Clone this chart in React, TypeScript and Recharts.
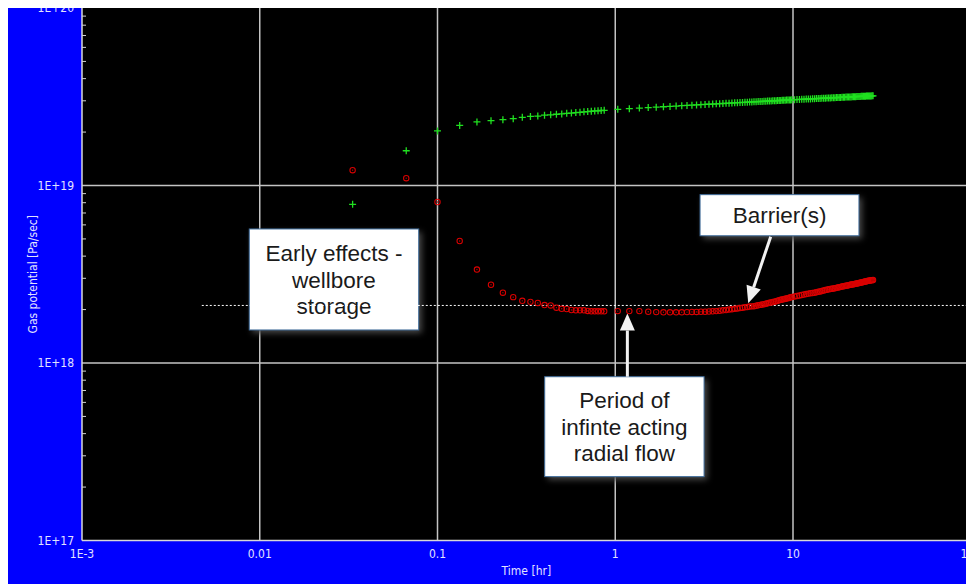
import React from "react";
import {
  ScatterChart,
  Scatter,
  XAxis,
  YAxis,
  CartesianGrid,
  ReferenceLine,
  ReferenceArea,
} from "recharts";

// values of both series are given in units of 1E+18 Pa/sec
const UNIT = 1e18;

const TIME_HR = [
  0.0333, 0.0667, 0.1, 0.1333, 0.1667, 0.2, 0.2333, 0.2667, 0.3, 0.3333, 0.3667, 0.4, 0.4333,
  0.4667, 0.5, 0.5333, 0.5667, 0.6, 0.6333, 0.6667, 0.7, 0.7333, 0.7667, 0.8, 0.8333, 0.8667,
  1.033, 1.2, 1.367, 1.533, 1.7, 1.867, 2.033, 2.2, 2.367, 2.533, 2.7, 2.867,
  3.033, 3.2, 3.367, 3.533, 3.7, 3.867, 4.033, 4.2, 4.367, 4.533, 4.7, 4.867,
  5.033, 5.2, 5.367, 5.533, 5.7, 5.867, 6.033, 6.2, 6.367, 6.533, 6.7, 6.867,
  7.033, 7.2, 7.367, 7.533, 7.7, 7.867, 8.033, 8.2, 8.367, 8.533, 8.7, 8.867,
  9.033, 9.2, 9.367, 9.533, 9.7, 9.867,
  10.2, 10.53, 10.87, 11.2, 11.53, 11.87, 12.2, 12.53, 12.87, 13.2, 13.53, 13.87,
  14.2, 14.53, 14.87, 15.2, 15.53, 15.87, 16.2, 16.53, 16.87, 17.2, 17.53, 17.87,
  18.2, 18.53, 18.87, 19.2, 19.53, 19.87, 20.2, 20.53, 20.87, 21.2, 21.53, 21.87,
  22.2, 22.53, 22.87, 23.2, 23.53, 23.87, 24.2, 24.53, 24.87, 25.2, 25.53, 25.87,
  26.2, 26.53, 26.87, 27.2, 27.53, 27.87, 28.2,
];

// green "+" series: gas potential
const GAS_POTENTIAL = [
  7.83, 15.7, 20.3, 21.8, 22.8, 23.2, 23.5, 23.8, 24.2, 24.5, 24.6, 24.9, 25.0,
  25.2, 25.3, 25.5, 25.6, 25.75, 25.85, 26.0, 26.1, 26.2, 26.3, 26.35, 26.45, 26.5,
  26.85, 27.08, 27.29, 27.47, 27.63, 27.78, 27.91, 28.03, 28.15, 28.25, 28.35, 28.45,
  28.53, 28.62, 28.7, 28.77, 28.85, 28.92, 28.98, 29.04, 29.11, 29.16, 29.22, 29.28,
  29.33, 29.38, 29.43, 29.47, 29.52, 29.57, 29.61, 29.65, 29.7, 29.73, 29.77, 29.81,
  29.85, 29.89, 29.92, 29.96, 29.99, 30.03, 30.06, 30.09, 30.12, 30.15, 30.18, 30.21,
  30.24, 30.27, 30.3, 30.32, 30.35, 30.38,
  30.43, 30.48, 30.53, 30.58, 30.62, 30.67, 30.71, 30.75, 30.8, 30.84, 30.87, 30.91,
  30.95, 30.98, 31.02, 31.06, 31.09, 31.12, 31.16, 31.19, 31.22, 31.25, 31.28, 31.31,
  31.34, 31.36, 31.39, 31.42, 31.45, 31.47, 31.5, 31.52, 31.55, 31.57, 31.6, 31.62,
  31.65, 31.67, 31.69, 31.72, 31.74, 31.76, 31.78, 31.8, 31.83, 31.84, 31.87, 31.89,
  31.91, 31.93, 31.94, 31.97, 31.98, 32.0, 32.02,
];

// red "o" series: derivative
const DERIVATIVE = [
  12.2, 11.0, 8.07, 4.87, 3.36, 2.76, 2.49, 2.35, 2.24, 2.21, 2.18, 2.12, 2.11,
  2.05, 2.02, 2.015, 1.99, 1.98, 1.98, 1.98, 1.965, 1.955, 1.955, 1.955, 1.955, 1.955,
  1.96, 1.96, 1.96, 1.945, 1.935, 1.93, 1.93, 1.93, 1.93, 1.935, 1.94, 1.94,
  1.945, 1.945, 1.95, 1.955, 1.96, 1.97, 1.98, 1.99, 2.0, 2.01, 2.02, 2.03,
  2.04, 2.05, 2.06, 2.07, 2.08, 2.085, 2.09, 2.1, 2.115, 2.125, 2.135, 2.145,
  2.155, 2.17, 2.185, 2.195, 2.205, 2.215, 2.23, 2.245, 2.26, 2.27, 2.28, 2.29,
  2.3, 2.31, 2.32, 2.33, 2.345, 2.355,
  2.37, 2.385, 2.4, 2.415, 2.43, 2.445, 2.46, 2.47, 2.48, 2.49, 2.505, 2.52,
  2.53, 2.545, 2.56, 2.575, 2.585, 2.6, 2.61, 2.62, 2.63, 2.64, 2.65, 2.66,
  2.675, 2.685, 2.695, 2.705, 2.715, 2.725, 2.735, 2.745, 2.755, 2.765, 2.77, 2.78,
  2.785, 2.795, 2.805, 2.815, 2.825, 2.835, 2.845, 2.85, 2.86, 2.87, 2.88, 2.885,
  2.895, 2.905, 2.91, 2.92, 2.925, 2.93, 2.935,
];

const X_TICKS = [0.001, 0.01, 0.1, 1, 10, 100];
const X_TICK_LABELS = ["1E-3", "0.01", "0.1", "1", "10", "100"];
const Y_TICKS = [1e17, 1e18, 1e19, 1e20];
const Y_TICK_LABELS = ["1E+17", "1E+18", "1E+19", "1E+20"];
const X_GRID = [0.01, 0.1, 1, 10];
const Y_GRID = [1e18, 1e19];
const MINOR_MULT = [2, 3, 4, 5, 6, 7, 8, 9];
const X_DECADES = [0.001, 0.01, 0.1, 1, 10];
const Y_DECADES = [1e17, 1e18, 1e19];

const X_TITLE = "Time [hr]";
const Y_TITLE = "Gas potential [Pa/sec]";

// horizontal dotted reference level (radial flow stabilisation)
const IARF_LEVEL = { y: 2.11e18, xFrom: 0.00472, xTo: 100 };

const ANNOTATION_BOXES = [
  { lines: ["Early effects -", "wellbore", "storage"], x1: 0.00873, x2: 0.0784, y1: 1.535e18, y2: 5.69e18 },
  { lines: ["Barrier(s)"], x1: 3.0, x2: 23.5, y1: 5.21e18, y2: 8.88e18 },
  { lines: ["Period of", "infinte acting", "radial flow"], x1: 0.401, x2: 3.16, y1: 2.29e17, y2: 8.37e17 },
];

const ARROWS = [
  { from: { x: 7.49, y: 5.15e18 }, to: { x: 5.6, y: 2.17e18 } },
  { from: { x: 1.17, y: 8.37e17 }, to: { x: 1.17, y: 1.9e18 } },
];

const greenData = TIME_HR.map((t, i) => ({ t, v: GAS_POTENTIAL[i] * UNIT }));
const redData = TIME_HR.map((t, i) => ({ t, v: DERIVATIVE[i] * UNIT }));
const X_MINOR = X_DECADES.flatMap((d) => MINOR_MULT.map((m) => d * m));
const Y_MINOR = Y_DECADES.flatMap((d) => MINOR_MULT.map((m) => d * m));

// layout
const CHART_W = 966;
const CHART_H = 576;
const Y_AXIS_W = 74;
const X_AXIS_H = 43.5;
const MARGIN_RIGHT = 3.25;

const TEXT_COLOR = "#E2E2FF";
const TICK_COLOR = "#D4D4D4";
const TICK_FONT = "'DejaVu Sans Condensed', 'DejaVu Sans', sans-serif";
const BOX_FONT = "'Liberation Sans', Arial, sans-serif";

const labelFor = (ticks: number[], labels: string[]) => (v: number) => {
  const i = ticks.findIndex((t) => Math.abs(t - v) / t < 1e-6);
  return i >= 0 ? labels[i] : "";
};

const PlusShape = (p: any) => {
  const { cx, cy } = p;
  if (cx == null || cy == null) return <g />;
  const s = 3.5;
  return (
    <path
      d={`M${cx - s},${cy}H${cx + s}M${cx},${cy - s}V${cy + s}`}
      stroke="#20E020"
      strokeWidth={1.3}
      fill="none"
    />
  );
};

const RingShape = (p: any) => {
  const { cx, cy } = p;
  if (cx == null || cy == null) return <g />;
  return (
    <g>
      <circle cx={cx} cy={cy} r={2.7} stroke="#DA0000" strokeWidth={1.05} fill="none" />
      <circle cx={cx} cy={cy} r={0.7} fill="#C00000" />
    </g>
  );
};

const MinorTick = (dx: number, dy: number) => (p: any) => {
  const { x, y } = p;
  if (x == null || y == null) return <g />;
  return <line x1={x} y1={y} x2={x + dx} y2={y + dy} stroke={TICK_COLOR} strokeWidth={1} />;
};
const MinorTickBottom = MinorTick(0, -4);
const MinorTickTop = MinorTick(0, 4);
const MinorTickLeft = MinorTick(4, 0);

const makeBoxShape = (lines: string[]) => (p: any) => {
  const { x, y, width, height } = p;
  const lh = 26.5;
  const fs = 22.5;
  const c0 = y + height / 2 - ((lines.length - 1) * lh) / 2;
  return (
    <g>
      <rect x={x + 3} y={y + 3} width={width} height={height} fill="#4a4a4a" style={{ filter: "blur(3px)" }} />
      <rect x={x} y={y} width={width} height={height} fill="#FFFFFF" stroke="#3F6C9B" strokeWidth={1} />
      <text textAnchor="middle" fontFamily={BOX_FONT} fontSize={fs} fill="#1a1a1a">
        {lines.map((l, i) => (
          <tspan key={i} x={x + width / 2} y={c0 + i * lh + fs * 0.36}>
            {l}
          </tspan>
        ))}
      </text>
    </g>
  );
};

const ArrowShape = (p: any) => {
  const { x1, y1, x2, y2 } = p;
  if ([x1, y1, x2, y2].some((v) => v == null || isNaN(v))) return <g />;
  const dx = x2 - x1;
  const dy = y2 - y1;
  const len = Math.hypot(dx, dy) || 1;
  const ux = dx / len;
  const uy = dy / len;
  const headLen = 17;
  const headW = 7.5;
  const bx = x2 - ux * headLen;
  const by = y2 - uy * headLen;
  const px = -uy;
  const py = ux;
  return (
    <g>
      <line x1={x1} y1={y1} x2={bx} y2={by} stroke="#F2F2F2" strokeWidth={3} />
      <polygon
        points={`${x2},${y2} ${bx + px * headW},${by + py * headW} ${bx - px * headW},${by - py * headW}`}
        fill="#F2F2F2"
      />
    </g>
  );
};

const YTitle = (props: any) => {
  const vb = props.viewBox || { x: 0, y: 0, width: Y_AXIS_W, height: CHART_H - X_AXIS_H };
  const cx = vb.x + 25;
  const cy = vb.y + vb.height / 2;
  return (
    <text
      x={cx}
      y={cy}
      transform={`rotate(-90 ${cx} ${cy})`}
      textAnchor="middle"
      dominantBaseline="central"
      fill={TEXT_COLOR}
      fontSize={12}
      fontFamily={TICK_FONT}
    >
      {Y_TITLE}
    </text>
  );
};

const XTitle = (props: any) => {
  const vb = props.viewBox || { x: Y_AXIS_W, y: CHART_H - X_AXIS_H, width: 888, height: X_AXIS_H };
  return (
    <text
      x={vb.x + vb.width / 2}
      y={vb.y + 34}
      textAnchor="middle"
      fill={TEXT_COLOR}
      fontSize={12}
      fontFamily={TICK_FONT}
    >
      {X_TITLE}
    </text>
  );
};

export default function App() {
  const tickStyle = { fill: TEXT_COLOR, fontSize: 12, fontFamily: TICK_FONT };
  const minorCommon = {
    type: "number" as const,
    scale: "log" as const,
    allowDataOverflow: true,
    interval: 0 as const,
    mirror: true,
    tickLine: false,
    axisLine: false,
    tickSize: 0,
    tickMargin: 0,
  };
  return (
    <div
      style={{
        position: "absolute",
        left: 8,
        top: 8,
        width: 958,
        height: CHART_H,
        overflow: "hidden",
        background: "#0000FF",
      }}
    >
      <div
        style={{
          position: "absolute",
          left: Y_AXIS_W,
          top: 0,
          width: CHART_W - Y_AXIS_W - MARGIN_RIGHT,
          height: CHART_H - X_AXIS_H,
          background: "#000000",
        }}
      />
      <ScatterChart width={CHART_W} height={CHART_H} margin={{ top: 0, right: MARGIN_RIGHT, bottom: 0, left: 0 }}>
        <CartesianGrid
          horizontalValues={Y_GRID}
          verticalValues={X_GRID}
          stroke="#C4C4C4"
          strokeWidth={1.5}
          fill="none"
        />
        <XAxis
          type="number"
          dataKey="t"
          scale="log"
          domain={[0.001, 100]}
          allowDataOverflow
          ticks={X_TICKS}
          interval={0}
          tickFormatter={labelFor(X_TICKS, X_TICK_LABELS)}
          tick={tickStyle}
          tickLine={false}
          tickSize={6}
          tickMargin={3}
          axisLine={{ stroke: "#D8D8D8", strokeWidth: 1.5 }}
          height={X_AXIS_H}
          label={<XTitle />}
        />
        <XAxis
          {...minorCommon}
          xAxisId="minorBottom"
          domain={[0.001, 100]}
          ticks={X_MINOR}
          height={1}
          tick={MinorTickBottom}
        />
        <XAxis
          {...minorCommon}
          xAxisId="minorTop"
          orientation="top"
          domain={[0.001, 100]}
          ticks={X_MINOR}
          height={1}
          tick={MinorTickTop}
        />
        <YAxis
          type="number"
          dataKey="v"
          scale="log"
          domain={[1e17, 1e20]}
          allowDataOverflow
          ticks={Y_TICKS}
          interval={0}
          tickFormatter={labelFor(Y_TICKS, Y_TICK_LABELS)}
          tick={tickStyle}
          tickLine={false}
          axisLine={{ stroke: "#D8D8D8", strokeWidth: 1.5 }}
          width={Y_AXIS_W}
          label={<YTitle />}
        />
        <YAxis
          {...minorCommon}
          yAxisId="minorLeft"
          domain={[1e17, 1e20]}
          ticks={Y_MINOR}
          width={1}
          tick={MinorTickLeft}
        />
        <ReferenceLine
          segment={[
            { x: IARF_LEVEL.xFrom, y: IARF_LEVEL.y },
            { x: IARF_LEVEL.xTo, y: IARF_LEVEL.y },
          ]}
          stroke="#FFFFFF"
          strokeWidth={1}
          strokeDasharray="2 2"
        />
        <Scatter data={greenData} shape={PlusShape} isAnimationActive={false} />
        <Scatter data={redData} shape={RingShape} isAnimationActive={false} />
        {ANNOTATION_BOXES.map((b, i) => (
          <ReferenceArea
            key={`box${i}`}
            x1={b.x1}
            x2={b.x2}
            y1={b.y1}
            y2={b.y2}
            shape={makeBoxShape(b.lines)}
          />
        ))}
        {ARROWS.map((a, i) => (
          <ReferenceLine key={`arrow${i}`} segment={[a.from, a.to]} shape={ArrowShape} />
        ))}
      </ScatterChart>
    </div>
  );
}
